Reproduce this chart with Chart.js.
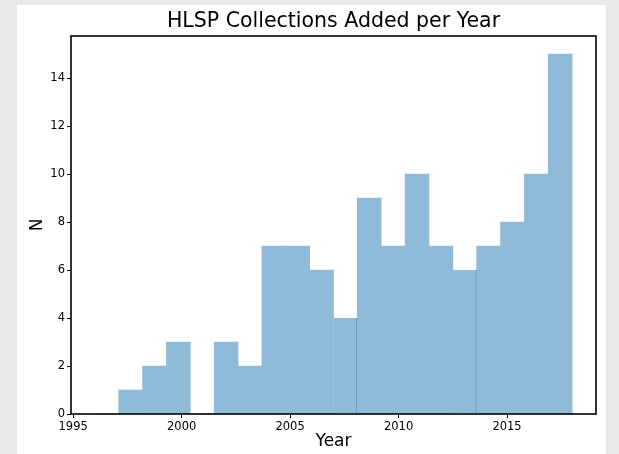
<!DOCTYPE html>
<html>
<head>
<meta charset="utf-8">
<script src="https://cdn.jsdelivr.net/npm/chart.js@4/dist/chart.umd.min.js"></script>
<style>
  html, body { margin: 0; padding: 0; }
  body { width: 619px; height: 454px; background: #e8e8e8; position: relative; overflow: hidden; }
  #fig { position: absolute; left: 17px; top: 5px; width: 589px; height: 449px; background: #ffffff; }
  canvas { display: block; }
</style>
</head>
<body>
<div id="fig"><canvas id="chart" width="589" height="449"></canvas></div>
<script>
// Histogram of HLSP collections added per year (20 bins, 1996-2018)
const binEdges = [1996.0, 1997.1, 1998.2, 1999.3, 2000.4, 2001.5, 2002.6, 2003.7, 2004.8, 2005.9,
                  2007.0, 2008.1, 2009.2, 2010.3, 2011.4, 2012.5, 2013.6, 2014.7, 2015.8, 2016.9, 2018.0];
const counts = [0, 1, 2, 3, 0, 3, 2, 7, 7, 6, 4, 9, 7, 10, 7, 6, 7, 8, 10, 15];
const yTicks = [0, 2, 4, 6, 8, 10, 12, 14];
const xTicks = [1995, 2000, 2005, 2010, 2015];
const titleText = 'HLSP Collections Added per Year';

// bins whose right edge shows a darker seam line
const seamBins = [10, 15];

const barPoints = counts.map((n, i) => ({ x: (binEdges[i] + binEdges[i + 1]) / 2, y: n }));

const FONT = 'DejaVu Sans';

// axes frame plus a title centred over the plotting area
const frame = {
  id: 'frame',
  afterDatasetsDraw(chart) {
    const { ctx, chartArea: a } = chart;
    ctx.save();
    ctx.strokeStyle = '#000';
    ctx.lineWidth = 1.6;
    ctx.strokeRect(a.left, a.top, a.right - a.left, a.bottom - a.top);
    ctx.fillStyle = '#000';
    ctx.font = '20.5px "' + FONT + '"';
    ctx.textAlign = 'center';
    ctx.textBaseline = 'middle';
    ctx.fillText(titleText, (a.left + a.right) / 2, a.top - 14);
    ctx.restore();
  }
};

new Chart(document.getElementById('chart'), {
  type: 'bar',
  data: {
    datasets: [{
      data: barPoints,
      backgroundColor: '#8fbbd9',
      borderColor: 'rgba(31,119,180,0.75)',
      borderWidth: (c) => seamBins.includes(c.dataIndex) ? { top: 0, left: 0, bottom: 0, right: 1.4 } : 0,
      borderSkipped: false,
      barPercentage: 1.0,
      categoryPercentage: 1.0
    }]
  },
  options: {
    responsive: false,
    animation: false,
    layout: { padding: { left: 0, right: 10, top: 31, bottom: 0 } },
    plugins: {
      legend: { display: false },
      tooltip: { enabled: false },
      title: { display: false }
    },
    scales: {
      x: {
        type: 'linear',
        offset: false,
        min: 1994.9,
        max: 2019.1,
        afterFit(s) { s.height = 40; },
        afterBuildTicks(s) { s.ticks = xTicks.map(v => ({ value: v })); },
        ticks: {
          color: '#000',
          font: { family: FONT, size: 11.5 },
          padding: 2,
          maxRotation: 0,
          autoSkip: false,
          callback: (v) => String(v)
        },
        grid: { offset: false, drawOnChartArea: false, drawTicks: true, tickLength: 4, tickColor: '#000', tickWidth: 1 },
        border: { display: false },
        title: {
          display: true,
          text: 'Year',
          color: '#000',
          font: { family: FONT, size: 17 },
          padding: { top: 0, bottom: 2 }
        }
      },
      y: {
        min: 0,
        max: 15.75,
        afterFit(s) { s.width = 54; },
        afterBuildTicks(s) { s.ticks = yTicks.map(v => ({ value: v })); },
        ticks: {
          color: '#000',
          font: { family: FONT, size: 11.5 },
          padding: 2,
          autoSkip: false,
          callback: (v) => String(v)
        },
        grid: { drawOnChartArea: false, drawTicks: true, tickLength: 4, tickColor: '#000', tickWidth: 1 },
        border: { display: false },
        title: {
          display: true,
          text: 'N',
          color: '#000',
          font: { family: FONT, size: 17 },
          padding: { top: 10, bottom: 0 }
        }
      }
    }
  },
  plugins: [frame]
});
</script>
</body>
</html>
